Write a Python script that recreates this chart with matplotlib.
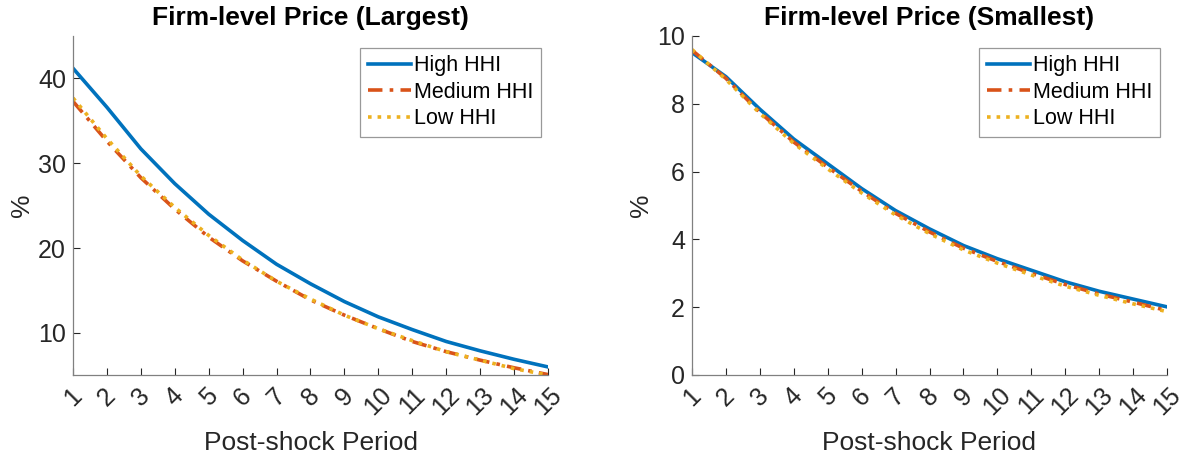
import matplotlib
matplotlib.use("Agg")
import matplotlib.pyplot as plt

periods = list(range(1, 16))

largest_high = [41.2, 36.6, 31.7, 27.6, 24.0, 20.9, 18.1, 15.8, 13.7, 11.9, 10.4, 9.0, 7.9, 6.9, 6.0]
largest_medium = [37.3, 32.6, 28.3, 24.6, 21.3, 18.5, 16.1, 13.9, 12.1, 10.5, 9.0, 7.8, 6.8, 5.9, 5.1]
largest_low = [37.7, 32.9, 28.5, 24.8, 21.5, 18.6, 16.1, 14.0, 12.1, 10.5, 9.1, 7.8, 6.8, 5.8, 5.05]

smallest_high = [9.51, 8.80, 7.84, 6.96, 6.23, 5.50, 4.85, 4.31, 3.82, 3.43, 3.09, 2.75, 2.47, 2.24, 2.01]
smallest_medium = [9.58, 8.75, 7.75, 6.87, 6.13, 5.42, 4.77, 4.22, 3.74, 3.35, 3.00, 2.67, 2.39, 2.15, 1.90]
smallest_low = [9.60, 8.72, 7.72, 6.83, 6.08, 5.37, 4.72, 4.17, 3.69, 3.30, 2.95, 2.62, 2.35, 2.10, 1.87]

series_labels = ["High HHI", "Medium HHI", "Low HHI"]
titles = ["Firm-level Price (Largest)", "Firm-level Price (Smallest)"]

plt.rcParams['font.family'] = ['Liberation Sans', 'DejaVu Sans']

colors = ["#0072BD", "#D95319", "#EDB120"]
styles = ["-", (0, (4, 2, 1, 2)), ":"]
axcol = "#262626"

fig = plt.figure(figsize=(11.85, 4.57), dpi=100)
ax1 = fig.add_axes([73/1185, 82/457, 475/1185, 339/457])
ax2 = fig.add_axes([692/1185, 82/457, 475/1185, 339/457])

data = [(largest_high, largest_medium, largest_low), (smallest_high, smallest_medium, smallest_low)]
ylims = [(5.05, 45), (0, 10)]
yticks = [[10, 20, 30, 40], [0, 2, 4, 6, 8, 10]]

for ax, d, title, yl, yt in zip([ax1, ax2], data, titles, ylims, yticks):
    for vals, lab, c, ls in zip(d, series_labels, colors, styles):
        ax.plot(periods, vals, color=c, linestyle=ls, linewidth=2.6, label=lab)
    ax.set_xlim(1, 15)
    ax.set_ylim(*yl)
    ax.set_xticks(periods)
    ax.set_xticklabels([str(p) for p in periods], rotation=45, ha='center')
    ax.set_yticks(yt)
    ax.tick_params(direction='in', length=5, width=0.8, colors=axcol, labelsize=18, pad=5)
    ax.tick_params(axis='x', pad=6)
    for s in ['top', 'right']:
        ax.spines[s].set_visible(False)
    for s in ['left', 'bottom']:
        ax.spines[s].set_color('#808080')
        ax.spines[s].set_linewidth(0.9)
    ax.set_title(title, fontsize=19, fontweight='bold', pad=8)
    ax.set_xlabel("Post-shock Period", fontsize=19, color=axcol, labelpad=8)
    ax.set_ylabel("%", fontsize=19, color=axcol, labelpad=3)
    leg = ax.legend(loc='upper right', bbox_to_anchor=(0.985, 0.965), fontsize=15.5,
                    frameon=True, fancybox=False, handlelength=2.0, handletextpad=0.15,
                    borderpad=0.35, labelspacing=0.25, borderaxespad=0.0)
    leg.get_frame().set_edgecolor('#808080')
    leg.get_frame().set_linewidth(0.9)

fig.savefig("out.png", dpi=100)
